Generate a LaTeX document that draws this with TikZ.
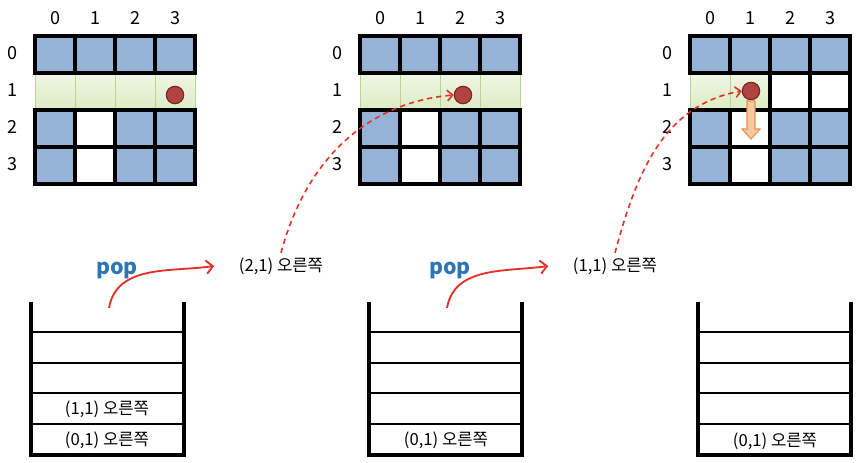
\documentclass[tikz,border=0pt]{standalone}
\usepackage{fontspec}
\setmainfont{Noto Sans CJK KR}
\usetikzlibrary{arrows.meta}

\definecolor{cellblue}{HTML}{95B3D7}
\definecolor{rowgreen}{HTML}{DCEBC2}
\definecolor{rowgreentop}{HTML}{F0F7E4}
\definecolor{rowgreenline}{HTML}{BCD396}
\definecolor{popblue}{HTML}{2E75B6}
\definecolor{arrowred}{HTML}{E0322B}
\definecolor{dotred}{HTML}{B04440}
\definecolor{dotedge}{HTML}{7A2622}
\definecolor{moveorange}{HTML}{F8C9A0}
\definecolor{moveedge}{HTML}{E8914A}

\tikzset{
  num/.style={font=\fontsize{13.5}{15}\selectfont},
  entry/.style={font=\fontsize{12.5}{14}\selectfont},
  poplabel/.style={font=\fontsize{16}{18}\selectfont\bfseries, text=popblue},
  bluecell/.style={fill=cellblue, draw=black, line width=2.8pt},
  whitecell/.style={fill=white, draw=black, line width=2.8pt},
  greencell/.style={top color=rowgreentop, bottom color=rowgreen, draw=rowgreenline, line width=0.6pt},
  marker/.style={circle, minimum size=13pt, inner sep=0pt, fill=dotred, draw=dotedge, line width=0.9pt},
  stackwall/.style={draw=black, line width=2.5pt},
  slotline/.style={draw=black, line width=1pt},
  popcurve/.style={arrowred, line width=1.4pt, -{Straight Barb[length=5pt,width=10pt]}},
  trackarrow/.style={arrowred, line width=1.2pt, dash pattern=on 4pt off 3pt, -{Straight Barb[length=4pt,width=8pt]}},
  movearrow/.style={fill=moveorange, draw=moveedge, line width=0.8pt}
}

\begin{document}
\begin{tikzpicture}[x=0.75pt,y=-0.75pt]
\useasboundingbox (0,0) rectangle (865,463);

% three grids: numbers and cells
\foreach \g/\ox in {1/35,2/360,3/690} {
  \foreach \c in {0,...,3}
    \node[num] (g\g c\c) at (\ox+20+40*\c,18) {\c};
  \foreach \r in {0,...,3}
    \node[num] (g\g r\r) at (\ox-23,53+37*\r) {\r};
}
% green row (current path)
\foreach \ox in {35,360}
  \foreach \c in {0,...,3}
    \draw[greencell] (\ox+40*\c,73) rectangle ++(40,37);
\foreach \c in {0,1}
  \draw[greencell] (690+40*\c,73) rectangle ++(40,37);
% walls and open cells
\foreach \ox in {35,360,690} {
  \foreach \c in {0,...,3}
    \foreach \r in {0,2,3}
      \draw[bluecell] (\ox+40*\c,36+37*\r) rectangle ++(40,37);
  \foreach \r in {2,3}
    \draw[whitecell] (\ox+40,36+37*\r) rectangle ++(40,37);
}
\foreach \c in {2,3}
  \draw[whitecell] (690+40*\c,73) rectangle ++(40,37);

% current position
\node[marker] (dotA) at (175,95) {};
\node[marker] (dotB) at (463,95) {};
\node[marker] (dotC) at (751,91) {};

% next move in third grid
\draw[movearrow] (747,101) -- (747,129) -- (742,129) -- (751,139) -- (760,129) -- (755,129) -- (755,101) -- cycle;

% stacks
\foreach \s/\ox in {1/31,2/369,3/698} {
  \draw[stackwall] (\ox,302) -- (\ox,455) -- (\ox+153,455) -- (\ox+153,302);
  \foreach \y in {332,363,393,424}
    \draw[slotline] (\ox,\y) -- (\ox+153,\y);
  \coordinate (s\s top) at (\ox+78,308);
}
\node[entry] (s1e1) at (107,409) {(1,1) 오른쪽};
\node[entry] (s1e0) at (107,440) {(0,1) 오른쪽};
\node[entry] (s2e0) at (446,440) {(0,1) 오른쪽};
\node[entry] (s3e0) at (775,441) {(0,1) 오른쪽};

% popped entries
\node[entry] (out1) at (281,266) {(2,1) 오른쪽};
\node[entry] (out2) at (615,266) {(1,1) 오른쪽};
\node[poplabel] (pop1) at (117,270) {pop};
\node[poplabel] (pop2) at (450,270) {pop};

\draw[popcurve] (s1top) to[out=80,in=188] ([xshift=-15pt]out1.west);
\draw[popcurve] (s2top) to[out=80,in=188] ([xshift=-15pt]out2.west);

\draw[trackarrow] (out1.north) to[out=75,in=185] (dotB.west);
\draw[trackarrow] (out2.north) to[out=75,in=190] (dotC.west);
\end{tikzpicture}
\end{document}
